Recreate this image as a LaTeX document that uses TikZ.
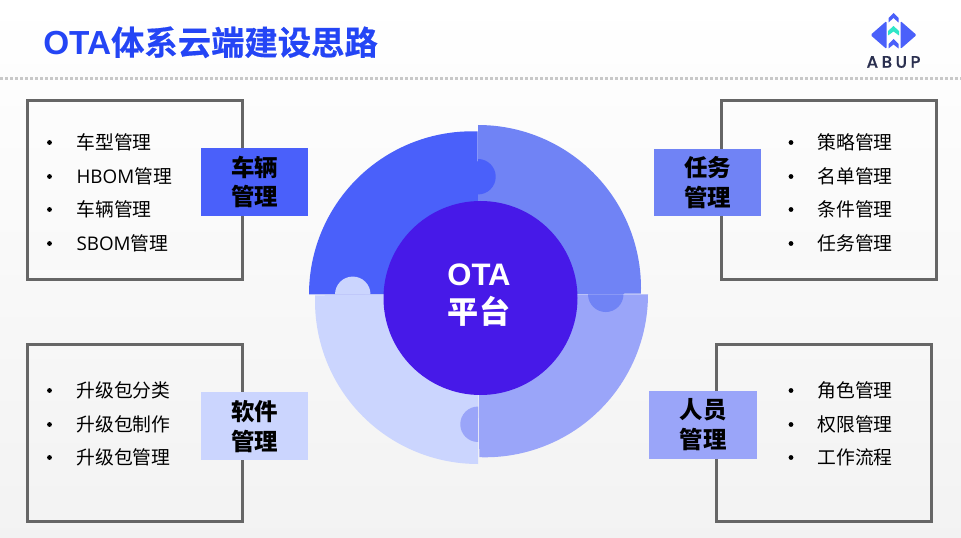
\documentclass[tikz,border=0pt]{standalone}
\usepackage{fontspec}
\setmainfont{Noto Sans CJK SC}
\newfontfamily\latinbody{Open Sans}
\newfontfamily\latinhead{Liberation Sans}
\newfontfamily\logofont[UprightFont=* Medium,FakeBold=0.4]{Poppins}
\newfontfamily\titlecjk[UprightFont=* Bold,FakeBold=0.5]{Noto Sans CJK SC}
\usetikzlibrary{calc}
\definecolor{secA}{HTML}{4A60FA}
\definecolor{secB}{HTML}{7083F5}
\definecolor{secC}{HTML}{9AA5F9}
\definecolor{secD}{HTML}{CBD5FE}
\definecolor{hub}{HTML}{4719E8}
\definecolor{titleblue}{HTML}{2445F5}
\definecolor{boxgray}{HTML}{666666}
\definecolor{dotgray}{HTML}{C8C8C8}
\definecolor{inkdark}{HTML}{2A2F4F}
\definecolor{logoblue}{HTML}{4A60FA}
\definecolor{logomint}{HTML}{2FE6C8}
\tikzset{x=0.75pt,y=-0.75pt,
  panel/.style={draw=boxgray,line width=2.25pt,fill=none},
  tag/.style={font=\fontsize{17.6}{22}\selectfont\bfseries,text=black,align=center,inner sep=0pt},
  item/.style={font=\fontsize{14.1}{17}\selectfont,text=black,anchor=west,inner sep=0pt},
  bulletmark/.style={circle,fill=black,minimum size=3.6pt,inner sep=0pt},
}
\begin{document}
\begin{tikzpicture}
\useasboundingbox (0,0) rectangle (961,538);
\shade[top color=white,bottom color=black!5,shading angle=0] (0,0) rectangle (961,538);
% title rule
\coordinate (ruleL) at (0,78.7); \coordinate (ruleR) at (961,78.7);
\draw[dotgray,line width=2.25pt,dash pattern=on 2.25pt off 1.5pt] (ruleL) -- (ruleR);
\node[anchor=west,inner sep=0pt,text=titleblue,font=\fontsize{25}{30}\selectfont] (title) at (43,42.3) {{\latinhead\bfseries OTA}{\titlecjk 体系云端建设思路}};
% logo
\fill[logoblue,rounded corners=1pt] (886.5,21) -- (886.5,49) -- (870.5,35) -- cycle;
\fill[logoblue,rounded corners=1pt] (900.5,21) -- (900.5,49) -- (916.5,35) -- cycle;
\fill[logoblue] (893.5,13) -- (898.5,18) -- (898.5,22.5) -- (893.5,18) -- (888.5,22.5) -- (888.5,18) -- cycle;
\fill[logomint] (893.5,26) -- (899,31) -- (899,35.5) -- (893.5,31.5) -- (888,35.5) -- (888,31) -- cycle;
\fill[logoblue] (893.5,39) -- (898.5,44) -- (898.5,48.5) -- (893.5,44.5) -- (888.5,48.5) -- (888.5,44) -- cycle;
\node[inner sep=0pt,text=inkdark,font=\fontsize{12.5}{14}\selectfont\logofont] (logotext) at (893.5,62) {A\hspace{2.6pt}B\hspace{2.6pt}U\hspace{2.6pt}P};
% panels
\draw[panel] (27.5,100.5) rectangle (242.5,279.5);
\draw[panel] (27.5,344.5) rectangle (242.5,521.5);
\draw[panel] (721.5,100.5) rectangle (936.5,279.5);
\draw[panel] (716.5,344.5) rectangle (931.5,521.5);
% items
\foreach \t/\y in {车型管理/142.5,{{\latinbody HBOM}管理}/176.5,车辆管理/209.5,{{\latinbody SBOM}管理}/243.5}{
  \node[bulletmark] at (49.5,\y) {}; \node[item] at (76.3,\y) {\t};}
\foreach \t/\y in {升级包分类/390.5,升级包制作/424.5,升级包管理/457.5}{
  \node[bulletmark] at (49.5,\y) {}; \node[item] at (76.3,\y) {\t};}
\foreach \t/\y in {策略管理/142.5,名单管理/176.5,条件管理/209.5,任务管理/243.5}{
  \node[bulletmark] at (791,\y) {}; \node[item] at (817.3,\y) {\t};}
\foreach \t/\y in {角色管理/390.5,权限管理/424.5,工作流程/457.5}{
  \node[bulletmark] at (791,\y) {}; \node[item] at (817.3,\y) {\t};}
% tags
\fill[secA] (201,148) rectangle (308,216);
\node[tag] (tagA) at (254.5,182) {车辆\\管理};
\fill[secB] (654,149) rectangle (761,216);
\node[tag] (tagB) at (707.5,182.5) {任务\\管理};
\fill[secD] (201,392) rectangle (308,460);
\node[tag] (tagD) at (254.5,426.5) {软件\\管理};
\fill[secC] (649,391) rectangle (757,459);
\node[tag] (tagC) at (703,424.5) {人员\\管理};
% wheel: each quadrant is a sector of radius 163, shifted 6px along the rotation
\fill[secA] (478,294.3) -- (309,294.3) arc[start angle=180,end angle=88,radius=122.25pt] -- cycle;
\fill[secB] (478,294.3) -- (478,125) arc[start angle=90,end angle=-2,radius=122.25pt] -- cycle;
\fill[secC] (478,294.3) -- (648,294.3) arc[start angle=0,end angle=-92,radius=122.25pt] -- cycle;
\fill[secD] (478,294.3) -- (478,464) arc[start angle=-90,end angle=-182,radius=122.25pt] -- cycle;
% knobs
\fill[secA] (478,159) arc[start angle=90,end angle=-90,radius=13.3pt] -- cycle;
\fill[secB] (588,294.3) arc[start angle=180,end angle=360,radius=13.3pt] -- cycle;
\fill[secC] (478,442) arc[start angle=-90,end angle=-270,radius=13.3pt] -- cycle;
\fill[secD] (370.5,294.3) arc[start angle=0,end angle=180,radius=13.3pt] -- cycle;
% hub
\node[circle,fill=hub,minimum size=145.5pt,inner sep=0pt] (hubc) at (480.5,298) {};
\node[inner sep=0pt,align=center,text=white,font=\fontsize{23.3}{28.5}\selectfont\bfseries] (hubt) at (479,295) {{\latinhead\bfseries OTA}\\平台};
\end{tikzpicture}
\end{document}
